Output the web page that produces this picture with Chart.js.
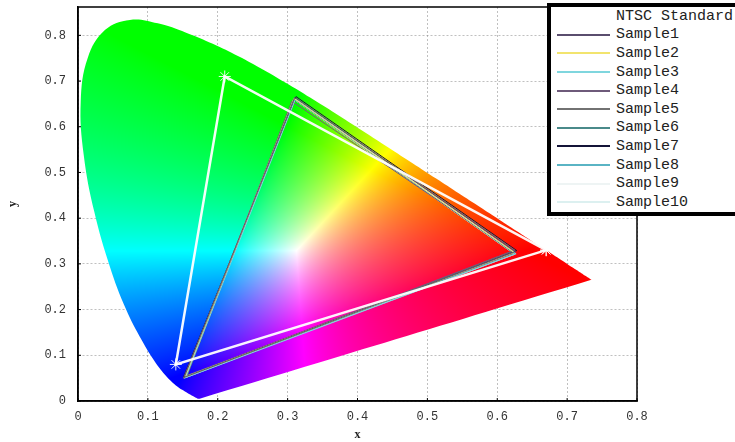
<!DOCTYPE html>
<html>
<head>
<meta charset="utf-8">
<script src="https://cdn.jsdelivr.net/npm/chart.js@4/dist/chart.umd.min.js"></script>
<style>
  body { margin: 0; background: #fff; overflow: hidden; }
  #wrap { position: relative; width: 735px; height: 442px; overflow: hidden; }
  #legend {
    position: absolute; left: 547px; top: 3px; width: 200px; height: 213px;
    box-sizing: border-box; border: 4px solid #000; border-right: none; background: #fff;
    font-family: "Liberation Mono", monospace; font-size: 15px; color: #222;
  }
  #legend .row { display: flex; align-items: center; height: 18.6px; white-space: nowrap; }
  #legend .swatch { width: 53px; height: 2px; margin-left: 6px; margin-right: 6px; flex: none; }
</style>
</head>
<body>
<div id="wrap">
  <canvas id="cie" width="735" height="442"></canvas>
  <div id="legend"></div>
</div>
<script>
// CIE 1931 spectral locus, 380..700 nm
var locusX = [0.1741, 0.1740, 0.1738, 0.1736, 0.1733, 0.1730, 0.1726, 0.1721, 0.1714, 0.1703,
  0.1689, 0.1669, 0.1644, 0.1611, 0.1566, 0.1510, 0.1440, 0.1355, 0.1241, 0.1096,
  0.0913, 0.0687, 0.0454, 0.0235, 0.0082, 0.0039, 0.0139, 0.0389, 0.0743, 0.1142,
  0.1547, 0.1929, 0.2296, 0.2658, 0.3016, 0.3373, 0.3731, 0.4087, 0.4441, 0.4788,
  0.5125, 0.5448, 0.5752, 0.6029, 0.6270, 0.6482, 0.6658, 0.6801, 0.6915, 0.7006,
  0.7079, 0.7140, 0.7190, 0.7230, 0.7260, 0.7283, 0.7300, 0.7311, 0.7320, 0.7334, 0.7347];
var locusY = [0.0050, 0.0050, 0.0049, 0.0049, 0.0048, 0.0048, 0.0048, 0.0048, 0.0051, 0.0058,
  0.0069, 0.0086, 0.0109, 0.0138, 0.0177, 0.0227, 0.0297, 0.0399, 0.0578, 0.0868,
  0.1327, 0.2007, 0.2950, 0.4127, 0.5384, 0.6548, 0.7502, 0.8120, 0.8338, 0.8262,
  0.8059, 0.7816, 0.7543, 0.7243, 0.6923, 0.6589, 0.6245, 0.5896, 0.5547, 0.5202,
  0.4866, 0.4544, 0.4242, 0.3965, 0.3725, 0.3514, 0.3340, 0.3197, 0.3083, 0.2993,
  0.2920, 0.2859, 0.2809, 0.2770, 0.2740, 0.2717, 0.2700, 0.2689, 0.2680, 0.2666, 0.2653];

var ntscX = [0.67, 0.21, 0.14];
var ntscY = [0.33, 0.71, 0.08];

var sampleNames = ['Sample1', 'Sample2', 'Sample3', 'Sample4', 'Sample5',
  'Sample6', 'Sample7', 'Sample8', 'Sample9', 'Sample10'];
var sampleColors = ['#5a4e6e', '#f2e46e', '#7fd6de', '#6e5a7a', '#727272',
  '#4a8a8a', '#141438', '#5ab4c4', '#eef4f4', '#dcf0f0'];
// red, green, blue vertices of each sample
var samplesX = [
  [0.626, 0.310, 0.152], [0.624, 0.309, 0.153], [0.627, 0.311, 0.154], [0.622, 0.306, 0.156],
  [0.625, 0.312, 0.151], [0.623, 0.309, 0.155], [0.628, 0.312, 0.151], [0.626, 0.310, 0.153],
  [0.624, 0.311, 0.152], [0.625, 0.309, 0.154]];
var samplesY = [
  [0.327, 0.664, 0.052], [0.325, 0.662, 0.053], [0.322, 0.660, 0.051], [0.328, 0.656, 0.055],
  [0.330, 0.663, 0.050], [0.324, 0.661, 0.052], [0.329, 0.666, 0.052], [0.323, 0.659, 0.054],
  [0.326, 0.662, 0.050], [0.321, 0.660, 0.053]];

function closedPoints(xs, ys) {
  var p = xs.map(function(x, i) { return { x: x, y: ys[i] }; });
  p.push(p[0]);
  return p;
}

function xyToRgb(x, y) {
  var X = x / y, Y = 1, Z = (1 - x - y) / y;
  var r = Math.max(0, 3.2406 * X - 1.5372 * Y - 0.4986 * Z);
  var g = Math.max(0, -0.9689 * X + 1.8758 * Y + 0.0415 * Z);
  var b = Math.max(0, 0.0557 * X - 0.2040 * Y + 1.0570 * Z);
  var m = Math.max(r, g, b) || 1;
  return [r, g, b].map(function(v) { return Math.round(255 * Math.pow(v / m, 0.8)); });
}

// paints the chromaticity colours inside the locus
var gamutFill = {
  id: 'gamutFill',
  beforeDatasetsDraw: function(chart) {
    var ctx = chart.ctx, area = chart.chartArea;
    var xs = chart.scales.x, ys = chart.scales.y;
    if (!chart.$gamut) {
      var off = document.createElement('canvas');
      off.width = chart.width; off.height = chart.height;
      var octx = off.getContext('2d');
      var img = octx.createImageData(chart.width, chart.height);
      for (var py = Math.floor(area.top); py < area.bottom; py++) {
        var cy = ys.getValueForPixel(py + 0.5);
        if (cy <= 0.002) continue;
        for (var px = Math.floor(area.left); px < area.right; px++) {
          var cx = xs.getValueForPixel(px + 0.5);
          var c = xyToRgb(cx, cy);
          var i = (py * chart.width + px) * 4;
          img.data[i] = c[0]; img.data[i + 1] = c[1]; img.data[i + 2] = c[2]; img.data[i + 3] = 255;
        }
      }
      octx.putImageData(img, 0, 0);
      chart.$gamut = off;
    }
    var line = chart.getDatasetMeta(0).dataset;
    line.updateControlPoints(area, 'x');
    ctx.save();
    ctx.beginPath();
    line.path(ctx);
    ctx.closePath();
    ctx.clip();
    ctx.drawImage(chart.$gamut, 0, 0);
    ctx.restore();
  }
};

// closed black frame with short inward ticks
var frame = {
  id: 'frame',
  afterDraw: function(chart) {
    var a = chart.chartArea, ctx = chart.ctx;
    ctx.save();
    ctx.strokeStyle = '#000';
    ctx.lineWidth = 1.5;
    ctx.strokeRect(a.left, a.top, a.right - a.left, a.bottom - a.top);
    ctx.lineWidth = 1;
    ctx.beginPath();
    chart.scales.x.ticks.forEach(function(t) {
      var px = chart.scales.x.getPixelForValue(t.value);
      ctx.moveTo(px, a.bottom); ctx.lineTo(px, a.bottom - 3);
    });
    chart.scales.y.ticks.forEach(function(t) {
      var py = chart.scales.y.getPixelForValue(t.value);
      ctx.moveTo(a.left, py); ctx.lineTo(a.left + 3, py);
    });
    ctx.stroke();
    ctx.restore();
  }
};

var datasets = [{
  label: 'locus',
  data: closedPoints(locusX, locusY),
  showLine: true,
  tension: 0.4,
  borderColor: 'rgba(0,0,0,0)',
  borderWidth: 1,
  pointRadius: 0
}, {
  label: 'NTSC Standard',
  data: closedPoints(ntscX, ntscY),
  showLine: true,
  borderColor: 'rgba(255,255,255,0.95)',
  borderWidth: 2.5,
  pointStyle: 'star',
  pointRadius: 6,
  pointBorderColor: 'rgba(255,255,255,0.9)',
  pointBorderWidth: 1
}];
sampleNames.forEach(function(name, k) {
  datasets.push({
    label: name,
    data: closedPoints(samplesX[k], samplesY[k]),
    showLine: true,
    borderColor: sampleColors[k],
    borderWidth: 1,
    pointRadius: 0
  });
});

var tickFont = { family: 'Liberation Mono', size: 12 };
function tickLabel(v) { return v === 0 ? '0' : v.toFixed(1); }
function keepTenths(scale) {
  scale.ticks = scale.ticks.filter(function(t) {
    return Math.abs(t.value * 10 - Math.round(t.value * 10)) < 1e-6;
  });
}

var chart = new Chart(document.getElementById('cie'), {
  type: 'scatter',
  data: { datasets: datasets },
  options: {
    responsive: false,
    devicePixelRatio: 1,
    animation: false,
    events: [],
    layout: { padding: { left: 0, top: 5, right: 98, bottom: 0 } },
    plugins: { legend: { display: false }, tooltip: { enabled: false } },
    scales: {
      x: {
        type: 'linear', min: 0, max: 0.8, z: 1,
        afterBuildTicks: keepTenths,
        afterFit: function(s) { s.height = 41; s.paddingLeft = 0; s.paddingRight = 0; },
        ticks: { stepSize: 0.1, padding: 9, color: '#333', font: tickFont, callback: tickLabel, maxRotation: 0 },
        grid: { color: 'rgba(140,140,140,0.55)', drawTicks: false },
        border: { color: '#000', width: 1.5, dash: [2, 2] },
        title: { display: true, text: 'x', color: '#222', font: { family: 'Liberation Serif', size: 12, weight: 'bold' }, padding: 0 }
      },
      y: {
        type: 'linear', min: 0, max: 0.862, z: 1,
        afterBuildTicks: keepTenths,
        afterFit: function(s) { s.width = 78; s.paddingTop = 0; s.paddingBottom = 0; },
        ticks: { stepSize: 0.1, padding: 12, color: '#333', font: tickFont, callback: tickLabel },
        grid: { color: 'rgba(140,140,140,0.55)', drawTicks: false },
        border: { color: '#000', width: 1.5, dash: [2, 2] },
        title: { display: true, text: 'y', color: '#222', font: { family: 'Liberation Serif', size: 12, weight: 'bold' }, padding: { top: 6, bottom: 0 } }
      }
    }
  },
  plugins: [gamutFill, frame]
});

// legend box drawn as html from the chart's datasets
var legend = document.getElementById('legend');
chart.data.datasets.slice(1).forEach(function(ds) {
  var row = document.createElement('div');
  row.className = 'row';
  var sw = document.createElement('span');
  sw.className = 'swatch';
  sw.style.background = ds.borderColor;
  var txt = document.createElement('span');
  txt.textContent = ds.label;
  row.appendChild(sw);
  row.appendChild(txt);
  legend.appendChild(row);
});
</script>
</body>
</html>
